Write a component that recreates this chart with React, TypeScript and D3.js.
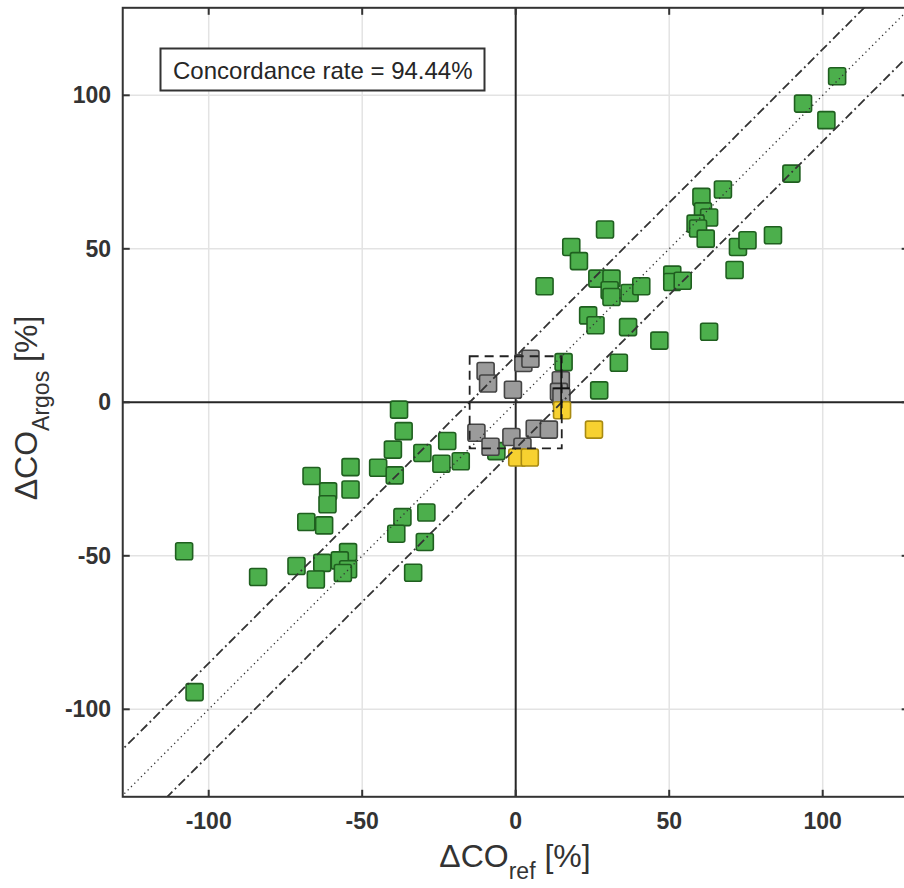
import React from 'react';
import * as d3 from 'd3';

// ---- data (ΔCO_ref, ΔCO_Argos) in % ----
const greenPoints: [number, number][] = [
  [104.7, 106.2], [93.6, 97.3], [101.2, 91.9], [89.8, 74.5], [67.5, 69.3],
  [60.5, 66.9], [61.0, 62.2], [63.0, 60.2], [58.6, 58.2], [59.4, 56.6],
  [61.9, 53.3], [72.4, 50.6], [75.5, 52.8], [83.8, 54.4], [71.3, 43.1],
  [51.0, 41.6], [51.0, 39.2], [54.4, 39.6], [63.0, 23.0], [46.8, 20.1],
  [29.1, 56.3], [18.1, 50.6], [20.6, 46.0], [9.4, 37.8], [26.6, 40.3],
  [31.2, 40.3], [30.6, 36.5], [31.2, 34.3], [37.1, 35.6], [40.9, 37.8],
  [23.6, 28.3], [26.0, 25.1], [36.6, 24.5], [33.6, 12.9], [15.6, 13.1],
  [27.2, 3.9],
  [-38.0, -2.4], [-36.5, -9.4], [-40.0, -15.4], [-30.4, -16.5], [-24.2, -20.0],
  [-44.8, -21.3], [-53.8, -21.1], [-39.4, -23.8], [-66.5, -24.0], [-61.1, -29.0],
  [-53.8, -28.4], [-61.3, -33.2], [-68.2, -39.0], [-62.4, -40.1], [-29.1, -35.9],
  [-36.9, -37.4], [-38.9, -42.8], [-29.6, -45.5], [-108.0, -48.5], [-54.6, -48.8],
  [-57.3, -51.5], [-63.0, -52.3], [-71.4, -53.3], [-54.6, -54.4], [-56.3, -55.6],
  [-83.9, -56.9], [-65.1, -57.7], [-33.4, -55.5], [-104.6, -94.4], [-22.3, -12.6],
  [-17.9, -19.2], [-6.3, -15.9],
];

const grayPoints: [number, number][] = [
  [-9.8, 10.2], [-9.0, 6.1], [-0.9, 4.1], [2.5, 12.8], [4.8, 14.2],
  [14.7, 7.2], [14.1, 3.4], [14.9, 1.7], [-12.8, -9.9], [-8.2, -14.5],
  [-1.4, -11.3], [2.2, -14.5], [6.2, -8.6], [10.8, -8.9],
];

const yellowPoints: [number, number][] = [
  [15.1, -2.6], [25.5, -8.9], [0.5, -18.0], [4.6, -18.0],
];

// error bar: [x, y, xerr, yerr]
const errorBars: [number, number, number, number][] = [
  [14.8, 4.6, 2.8, 10.0],
];

const tickValues = [-100, -50, 0, 50, 100];
const gridValues = [-100, -50, 50, 100];
const bandOffset = 15;
const annotation = 'Concordance rate = 94.44%';

const W = 904;
const H = 888;
const K = 3.07;
const FONT = '"Liberation Sans", Arial, Helvetica, sans-serif';

export default function App() {
  const x = d3.scaleLinear().domain([-128, 128]).range([515.7 - 128 * K, 515.7 + 128 * K]);
  const y = d3.scaleLinear().domain([-128.5, 128.5]).range([402.3 + 128.5 * K, 402.3 - 128.5 * K]);
  const [x0, x1] = x.range();
  const [y0, y1] = y.range(); // y0 bottom, y1 top
  const S = 17;

  const line = d3.line<[number, number]>().x(d => x(d[0])).y(d => y(d[1]));
  const diag = (c: number) => line([[-200, -200 + c], [200, 200 + c]]) as string;

  const square = (p: [number, number], i: number, fill: string, stroke: string) => (
    <rect key={i} x={x(p[0]) - S / 2} y={y(p[1]) - S / 2} width={S} height={S} rx={2}
      fill={fill} stroke={stroke} strokeWidth={1.6} />
  );

  return (
    <svg width={W} height={H} style={{ position: 'absolute', left: 0, top: 0, background: '#fff' }}
      fontFamily={FONT}>
      <defs>
        <clipPath id="plotClip">
          <rect x={x0} y={y1} width={x1 - x0} height={y0 - y1} />
        </clipPath>
      </defs>
      <rect x={x0} y={y1} width={x1 - x0} height={y0 - y1} fill="#fff" />
      {/* grid */}
      <g stroke="#e3e3e3" strokeWidth={1.5}>
        {gridValues.map(v => <line key={'gx' + v} x1={x(v)} x2={x(v)} y1={y1} y2={y0} />)}
        {gridValues.map(v => <line key={'gy' + v} x1={x0} x2={x1} y1={y(v)} y2={y(v)} />)}
      </g>
      {/* zero lines */}
      <g stroke="#262626" strokeWidth={2}>
        <line x1={x(0)} x2={x(0)} y1={y1} y2={y0} />
        <line x1={x0} x2={x1} y1={y(0)} y2={y(0)} />
      </g>
      {/* markers */}
      <g>
        {greenPoints.map((p, i) => square(p, i, '#4caf4c', '#1f5f1f'))}
        {grayPoints.map((p, i) => square(p, i, '#9b9b9b', '#444'))}
        {yellowPoints.map((p, i) => square(p, i, '#f7d130', '#a88a12'))}
      </g>
      {/* diagonal lines */}
      <g clipPath="url(#plotClip)" fill="none" stroke="#333">
        <path d={diag(0)} strokeWidth={1.3} strokeDasharray="1.3,3.4" />
        <path d={diag(bandOffset)} strokeWidth={1.8} strokeDasharray="9,3.5,1.8,3.5" />
        <path d={diag(-bandOffset)} strokeWidth={1.8} strokeDasharray="9,3.5,1.8,3.5" />
      </g>
      {/* uncertainty box */}
      <rect x={x(-bandOffset)} y={y(bandOffset)} width={x(bandOffset) - x(-bandOffset)}
        height={y(-bandOffset) - y(bandOffset)} fill="none" stroke="#222" strokeWidth={1.8}
        strokeDasharray="9,6" />
      {/* error bars */}
      <g stroke="#111" strokeWidth={1.6}>
        {errorBars.map((e, i) => (
          <g key={i}>
            <line x1={x(e[0] - e[2])} x2={x(e[0] + e[2])} y1={y(e[1])} y2={y(e[1])} />
            <line x1={x(e[0])} x2={x(e[0])} y1={y(e[1] - e[3])} y2={y(e[1] + e[3])} />
          </g>
        ))}
      </g>
      {/* frame */}
      <rect x={x0} y={y1} width={x1 - x0} height={y0 - y1} fill="none" stroke="#333" strokeWidth={2} />
      {/* ticks */}
      <g stroke="#333" strokeWidth={2}>
        {tickValues.map(v => (
          <g key={'t' + v}>
            <line x1={x(v)} x2={x(v)} y1={y0} y2={y0 - 7} />
            <line x1={x(v)} x2={x(v)} y1={y1} y2={y1 + 7} />
            <line x1={x0} x2={x0 + 7} y1={y(v)} y2={y(v)} />
            <line x1={x1} x2={x1 - 7} y1={y(v)} y2={y(v)} />
          </g>
        ))}
      </g>
      {/* tick labels */}
      <g fill="#333" fontWeight="bold" fontSize={23}>
        {tickValues.map(v => (
          <text key={'xl' + v} x={x(v)} y={829} textAnchor="middle">{v}</text>
        ))}
        {tickValues.map(v => (
          <text key={'yl' + v} x={111} y={y(v) + 8} textAnchor="end">{v}</text>
        ))}
      </g>
      {/* annotation */}
      <rect x={160.5} y={48.5} width={324} height={42} fill="#fff" stroke="#333" strokeWidth={2} />
      <text x={173} y={79} fontSize={24} fill="#262626">{annotation}</text>
      {/* axis labels */}
      <text x={515} y={867} textAnchor="middle" fill="#333" fontSize={32}>
        <tspan>ΔCO</tspan>
        <tspan fontSize={23} dy={12}>ref</tspan>
        <tspan dy={-12}> [%]</tspan>
      </text>
      <text transform={`translate(37, 408) rotate(-90)`} textAnchor="middle" fill="#333" fontSize={32}>
        <tspan>ΔCO</tspan>
        <tspan fontSize={23} dy={12}>Argos</tspan>
        <tspan dy={-12}> [%]</tspan>
      </text>
    </svg>
  );
}
